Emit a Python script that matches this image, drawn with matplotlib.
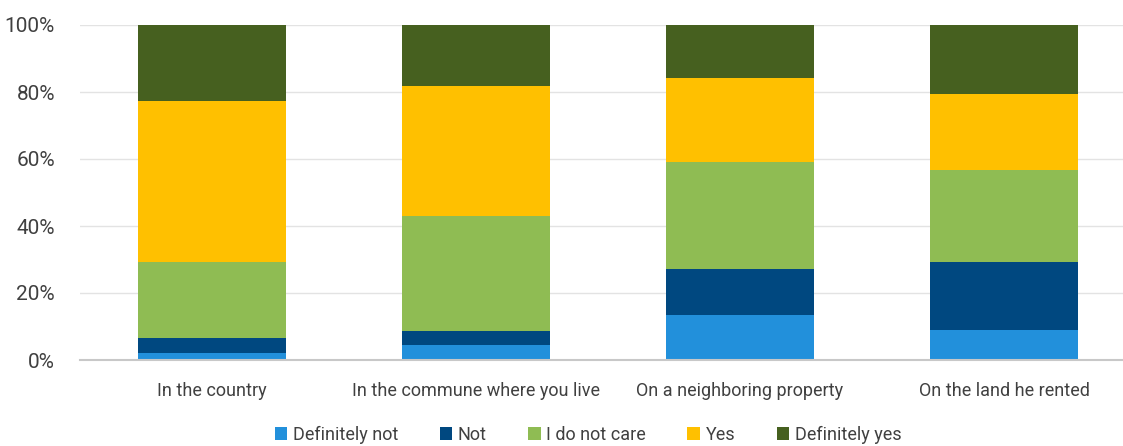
import matplotlib
matplotlib.use("Agg")
import matplotlib.pyplot as plt
import numpy as np
from matplotlib.ticker import PercentFormatter

plt.rcParams["font.family"] = ["Roboto", "DejaVu Sans"]

categories = ["In the country", "In the commune where you live",
              "On a neighboring property", "On the land he rented"]
series_names = ["Definitely not", "Not", "I do not care", "Yes", "Definitely yes"]
definitely_not = [2.2, 4.5, 13.4, 8.9]
not_ = [4.5, 4.2, 13.7, 20.4]
do_not_care = [22.6, 34.3, 31.9, 27.4]
yes = [47.9, 38.8, 25.1, 22.8]
definitely_yes = [22.8, 18.2, 15.9, 20.5]
colors = ["#2290DB", "#004880", "#8FBC53", "#FFC000", "#46601F"]

fig = plt.figure(figsize=(11.23, 4.46), dpi=100)
ax = fig.add_axes([80 / 1123, 86 / 446, 1056 / 1123, 335 / 446])

x = np.arange(len(categories))
bottom = np.zeros(len(categories))
for name, vals, c in zip(series_names,
                         [definitely_not, not_, do_not_care, yes, definitely_yes], colors):
    ax.bar(x, vals, 0.557, bottom=bottom, color=c, label=name, zorder=3)
    bottom += np.array(vals)

ax.set_xlim(-0.5, 3.5)
ax.set_ylim(0, 100)
ax.set_yticks(np.arange(0, 101, 20))
ax.yaxis.set_major_formatter(PercentFormatter(decimals=0))
ax.set_xticks(x)
ax.set_xticklabels(categories)
ax.tick_params(length=0, labelsize=13, colors="#404040")
ax.tick_params(axis="x", pad=16)
ax.tick_params(axis="y", pad=18, labelsize=15)
ax.grid(axis="y", color="#e3e3e3", linewidth=1, zorder=0)
for s in ["top", "right", "left"]:
    ax.spines[s].set_visible(False)
ax.spines["bottom"].set_color("#c8c8c8")
ax.spines["bottom"].set_linewidth(1.5)
ax.spines["bottom"].set_zorder(4)

leg = fig.legend(loc="center", bbox_to_anchor=(588 / 1123, 1 - 435 / 446), ncol=5,
                 frameon=False, fontsize=13, handlelength=0.7, handleheight=0.7,
                 handletextpad=0.3, columnspacing=2.3, labelcolor="#404040")

fig.savefig("out.png", dpi=100)
